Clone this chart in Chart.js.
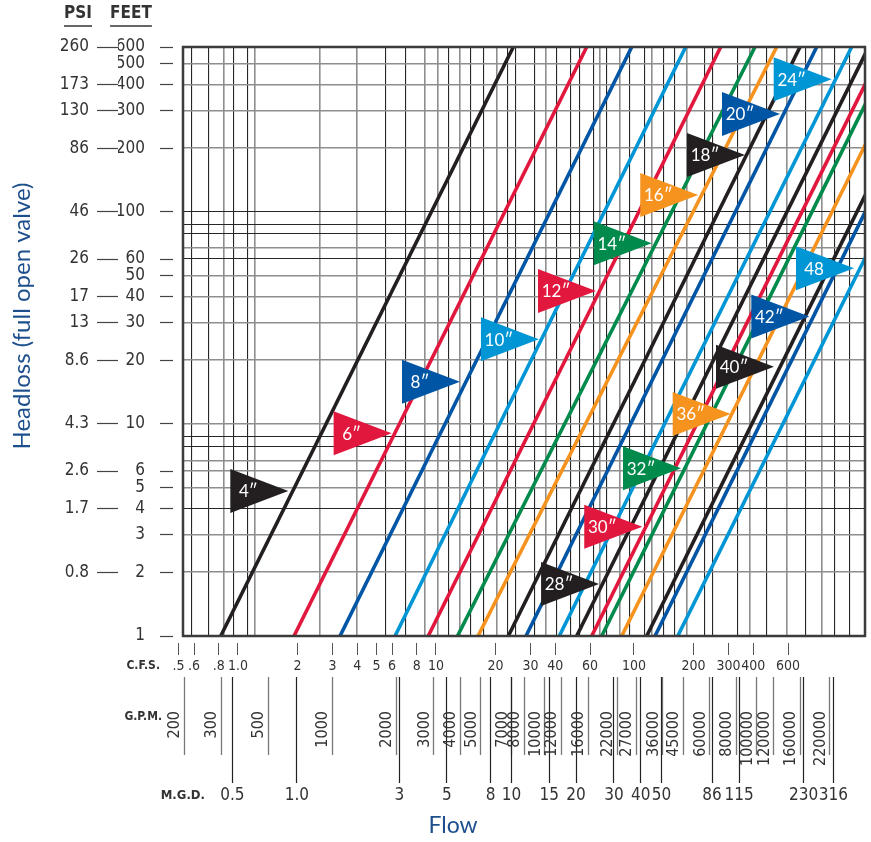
<!DOCTYPE html>
<html>
<head>
<meta charset="utf-8">
<script src="https://cdn.jsdelivr.net/npm/chart.js@4.4.1/dist/chart.umd.min.js"></script>
<style>
  html, body { margin: 0; padding: 0; background: #fff; }
  canvas { display: block; }
</style>
</head>
<body>
<canvas id="headlossChart" width="871" height="842"></canvas>
<script>
// pipe sizes, and the flow (cfs) where each line meets 1 ft and 600 ft of headloss
const pipeSizes = ['4″', '6″', '8″', '10″', '12″', '14″', '16″', '18″', '20″', '24″', '28″', '30″', '32″', '36″', '40″', '42″', '48'];
const flowAt1ft = [0.818, 1.918, 3.275, 6.21, 9.14, 12.84, 16.30, 23.19, 28.48, 41.95, 51.35, 61.15, 68.7, 86.7, 115.9, 127.7, 166.3];
const flowAt600ft = [24.57, 57.7, 97.4, 182.4, 274.1, 408.4, 525.7, 689.3, 837, 1257, 1532, 1824, 2049, 2586, 3458, 3809, 4962];

// where each size flag points (flow cfs, headloss ft)
const flagFlow = [1.795, 5.97, 13.22, 33.1, 64.3, 122.9, 211.2, 363.6, 546.2, 996.6, 66.6, 110.1, 172.8, 307.9, 509.4, 768.1, 1292];
const flagHead = [4.83, 9.04, 15.8, 25.1, 42.4, 71.2, 120.3, 185.8, 290, 422.6, 1.76, 3.28, 6.18, 11.15, 18.63, 32.1, 54.3];

// left axis
const feetTicks = [1, 2, 3, 4, 5, 6, 10, 20, 30, 40, 50, 60, 100, 200, 300, 400, 500, 600];
const psiLabels = ['260', '173', '130', '86', '46', '26', '17', '13', '8.6', '4.3', '2.6', '1.7', '0.8'];
const psiAtFeet = [600, 400, 300, 200, 100, 60, 40, 30, 20, 10, 6, 4, 2];

// bottom axes
const cfsLabels = ['.5', '.6', '.8', '1.0', '2', '3', '4', '5', '6', '8', '10', '20', '30', '40', '60', '100', '200', '300', '400', '600'];
const cfsTicks = [0.5, 0.6, 0.8, 1, 2, 3, 4, 5, 6, 8, 10, 20, 30, 40, 60, 100, 200, 300, 400, 600];
const gpmTicks = [200, 300, 500, 1000, 2000, 3000, 4000, 5000, 7000, 8000, 10000, 12000, 16000, 22000, 27000, 36000, 45000, 60000, 80000, 100000, 120000, 160000, 220000];
const mgdLabels = ['0.5', '1.0', '3', '5', '8', '10', '15', '20', '30', '40', '50', '86', '115', '230', '316'];
const mgdTicks = [0.5, 1, 3, 5, 8, 10, 15, 20, 30, 40, 50, 86, 115, 230, 316];

// graph paper lines (flow cfs / headloss ft)
const gridFlowDark = [0.584, 0.714, 0.954, 1.123, 5.57, 7.03, 11.6, 14.97, 17.3, 23.0, 25.3, 31.4, 40.7, 47.9, 53.4, 62.3, 72.8, 95.4, 113.6, 140.6, 161.1, 226.5, 249.7, 332.4, 468, 739, 1036, 1233];
const gridFlowLight = [0.850, 1.214, 2.595, 3.977, 8.80, 10.2, 13.2, 20.3, 35.8, 67.3, 85, 123.7, 184.6, 385.3, 594.6, 887];
const gridHeadDark = [4, 7.8, 8.7, 60, 79, 87, 100];
const gridHeadLight = [2, 3, 5, 6, 6.7, 10, 20, 30, 40, 50, 68, 200, 300, 400, 500];

// range of each scale across the plot box
const cfsMin = 0.5275, cfsMax = 1468;
const gpmMin = 197.8, gpmMax = 322700;
const mgdMin = 0.2945, mgdMax = 444;
const feetMin = 1, feetMax = 600;

const pipeColors = {
  black: '#231f20', red: '#e2173d', blue: '#0055a5', sky: '#0096d6', green: '#008a4b', orange: '#f6921e'
};
const colorOrder = ['black', 'red', 'blue', 'sky', 'red', 'green', 'orange', 'black', 'blue', 'sky',
  'black', 'red', 'green', 'orange', 'black', 'blue', 'sky'];

const NARROW = '"Liberation Sans Narrow", "DejaVu Sans Condensed", "Liberation Sans", sans-serif';
const ROUND = 'Lato, "Open Sans", sans-serif';
const TXT = '#333';
const TITLE_BLUE = '#1d4f8c';

const setTicks = values => scale => { scale.ticks = values.map(v => ({ value: v })); };
const fixHeight = h => scale => { scale.height = h; };
const fixWidth = w => scale => { scale.width = w; };

const datasets = pipeSizes.map((size, i) => ({
  label: size,
  data: [{ x: flowAt1ft[i], y: 1 }, { x: flowAt600ft[i], y: 600 }],
  showLine: true,
  borderColor: pipeColors[colorOrder[i]],
  borderWidth: 3.6,
  pointRadius: 0,
  clip: 0,
  xAxisID: 'x',
  yAxisID: 'y'
}));

// frame, size flags and loose texts
const decor = {
  id: 'decor',
  afterDatasetsDraw(chart) {
    const { ctx, chartArea: a } = chart;
    const sx = chart.scales.x, sy = chart.scales.y;
    ctx.save();
    ctx.strokeStyle = '#3b3b3b';
    ctx.lineWidth = 2.5;
    ctx.strokeRect(a.left, a.top, a.right - a.left, a.bottom - a.top);

    for (let i = 0; i < pipeSizes.length; i++) {
      const tx = sx.getPixelForValue(flagFlow[i]);
      const ty = sy.getPixelForValue(flagHead[i]);
      ctx.fillStyle = pipeColors[colorOrder[i]];
      ctx.beginPath();
      ctx.moveTo(tx, ty);
      ctx.lineTo(tx - 58, ty - 22);
      ctx.lineTo(tx - 58, ty + 22);
      ctx.closePath();
      ctx.fill();
      ctx.fillStyle = '#fff';
      ctx.font = '17px ' + ROUND;
      ctx.textAlign = 'center';
      ctx.textBaseline = 'middle';
      ctx.fillText(pipeSizes[i], tx - 40, ty + 1);
    }
    ctx.restore();
  },
  afterDraw(chart) {
    const ctx = chart.ctx;
    ctx.save();
    ctx.fillStyle = TXT;
    ctx.strokeStyle = TXT;
    ctx.textBaseline = 'middle';
    ctx.textAlign = 'center';
    ctx.font = 'bold 17px ' + NARROW;
    [['PSI', 78], ['FEET', 131]].forEach(([t, x]) => {
      ctx.fillText(t, x, 14);
      const w = ctx.measureText(t).width;
      ctx.lineWidth = 1.5;
      ctx.beginPath();
      ctx.moveTo(x - w / 2, 26);
      ctx.lineTo(x + w / 2, 26);
      ctx.stroke();
    });

    ctx.textAlign = 'right';
    ctx.font = 'bold 12px ' + NARROW;
    ctx.fillText('C.F.S.', 160, 666);
    ctx.fillText('G.P.M.', 162, 717);
    ctx.font = 'bold 13px ' + NARROW;
    ctx.fillText('M.G.D.', 205, 796);

    ctx.fillStyle = TITLE_BLUE;
    ctx.textAlign = 'center';
    ctx.font = '23px ' + ROUND;
    ctx.fillText('Flow', 453, 826);
    ctx.font = '24px ' + ROUND;
    ctx.translate(22, 316);
    ctx.rotate(-Math.PI / 2);
    ctx.fillText('Headloss (full open valve)', 0, 0);
    ctx.restore();
  }
};

const narrow = size => ({ family: NARROW, size: size });

new Chart(document.getElementById('headlossChart'), {
  type: 'scatter',
  data: { datasets: datasets },
  plugins: [decor],
  options: {
    responsive: false,
    animation: false,
    events: [],
    layout: { padding: { left: 0, right: 6, top: 47, bottom: 0 } },
    plugins: { legend: { display: false }, tooltip: { enabled: false } },
    scales: {
      x: {
        type: 'logarithmic', position: 'bottom', weight: 0, bounds: 'data',
        min: cfsMin, max: cfsMax,
        afterBuildTicks: setTicks(cfsTicks),
        afterFit: fixHeight(41),
        border: { display: false },
        grid: { drawOnChartArea: false, tickLength: 19, tickColor: '#555', tickWidth: 1,
                tickBorderDash: [12, 7], tickBorderDashOffset: 12 },
        ticks: { autoSkip: false, minRotation: 0, maxRotation: 0, padding: 3, color: TXT, font: narrow(14),
                 callback: v => cfsLabels[cfsTicks.indexOf(v)] }
      },
      gpm: {
        // zero-height box laid over the M.G.D. row; mirror keeps its labels from being clipped
        type: 'logarithmic', position: 'bottom', weight: 1, bounds: 'data',
        min: gpmMin, max: gpmMax,
        afterBuildTicks: setTicks(gpmTicks),
        afterFit: fixHeight(0),
        border: { display: false },
        grid: { drawOnChartArea: false, tickLength: 78, tickColor: '#777', tickWidth: 1.3 },
        ticks: { autoSkip: false, mirror: true, minRotation: 90, maxRotation: 90, padding: -34, labelOffset: 10,
                 color: TXT, font: narrow(16), callback: v => String(v) }
      },
      mgd: {
        type: 'logarithmic', position: 'bottom', weight: 2, bounds: 'data',
        min: mgdMin, max: mgdMax,
        afterBuildTicks: setTicks(mgdTicks),
        afterFit: fixHeight(165),
        border: { display: false },
        grid: { drawOnChartArea: false, tickLength: 106, tickColor: '#222', tickWidth: 1.2 },
        ticks: { autoSkip: false, minRotation: 0, maxRotation: 0, padding: 2, color: TXT, font: narrow(17),
                 callback: v => mgdLabels[mgdTicks.indexOf(v)] }
      },
      xgrid: {
        type: 'logarithmic', position: 'top', bounds: 'data',
        min: cfsMin, max: cfsMax,
        afterBuildTicks: setTicks(gridFlowDark.concat(gridFlowLight)),
        afterFit: fixHeight(0),
        border: { display: false },
        ticks: { display: false },
        grid: {
          drawTicks: false,
          color: c => gridFlowLight.includes(c.tick.value) ? '#8e8e8e' : '#262626',
          lineWidth: c => gridFlowLight.includes(c.tick.value) ? 1.6 : 1.1
        }
      },
      y: {
        type: 'logarithmic', position: 'left', weight: 0, bounds: 'data',
        min: feetMin, max: feetMax,
        afterBuildTicks: setTicks(feetTicks),
        afterFit: fixWidth(65),
        border: { display: false },
        grid: { drawOnChartArea: false, tickLength: 23, tickColor: '#444', tickWidth: 1.2,
                tickBorderDash: [13, 30] },
        ticks: { autoSkip: false, padding: 15, color: TXT, font: narrow(17), callback: v => String(v) }
      },
      psi: {
        type: 'logarithmic', position: 'left', weight: 1, bounds: 'data',
        min: feetMin, max: feetMax,
        afterBuildTicks: setTicks(psiAtFeet),
        afterFit: fixWidth(118),
        border: { display: false },
        grid: { drawOnChartArea: false, tickLength: 21, tickColor: '#444', tickWidth: 1.2 },
        ticks: { autoSkip: false, padding: 8, color: TXT, font: narrow(17),
                 callback: v => psiLabels[psiAtFeet.indexOf(v)] }
      },
      ygrid: {
        type: 'logarithmic', position: 'right', bounds: 'data',
        min: feetMin, max: feetMax,
        afterBuildTicks: setTicks(gridHeadDark.concat(gridHeadLight)),
        afterFit: fixWidth(0),
        border: { display: false },
        ticks: { display: false },
        grid: {
          drawTicks: false,
          color: c => gridHeadLight.includes(c.tick.value) ? '#8e8e8e' : '#262626',
          lineWidth: c => gridHeadLight.includes(c.tick.value) ? 1.6 : 1.1
        }
      }
    }
  }
});
</script>
</body>
</html>
